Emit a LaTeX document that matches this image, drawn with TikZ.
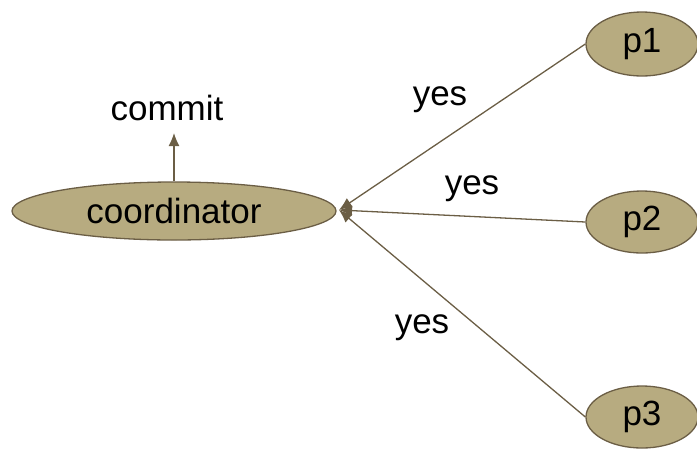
\documentclass[tikz,border=0pt]{standalone}
\usepackage{fontspec}
\setmainfont{Liberation Sans}
\usetikzlibrary{shapes.geometric,arrows.meta}
\definecolor{tan}{HTML}{B7AB80}
\definecolor{edge}{HTML}{6B5E45}
\begin{document}
\begin{tikzpicture}[x=1pt,y=-1pt,
  blob/.style={ellipse,draw=edge,line width=1.3pt,fill=tan,inner sep=0pt,font=\fontsize{35}{38}\selectfont},
  lbl/.style={font=\fontsize{35}{38}\selectfont,inner sep=0pt},
  vote/.style={draw=edge,line width=1.3pt,-{Latex[length=13pt,width=11pt]}}]
\useasboundingbox (0,0) rectangle (697,451);
\node[blob,minimum width=324pt,minimum height=58pt] (coord) at (174,211) {coordinator};
\node[blob,minimum width=112pt,minimum height=64pt] (p1) at (642,44) {p1};
\node[blob,minimum width=112pt,minimum height=62pt] (p2) at (642,222) {p2};
\node[blob,minimum width=112pt,minimum height=62pt] (p3) at (642,417) {p3};
\node[lbl] (commit) at (167,108) {commit};
\coordinate (tip) at (339,210);
\coordinate (up) at (174,133);
\draw[vote] (p1.west) -- (tip);
\draw[vote] (p2.west) -- (tip);
\draw[vote] (p3.west) -- (tip);
\draw[vote] (coord.north) -- (up);
\node[lbl] (y1) at (440,100) {yes};
\node[lbl] (y2) at (472,189) {yes};
\node[lbl] (y3) at (422,328) {yes};
\end{tikzpicture}
\end{document}
